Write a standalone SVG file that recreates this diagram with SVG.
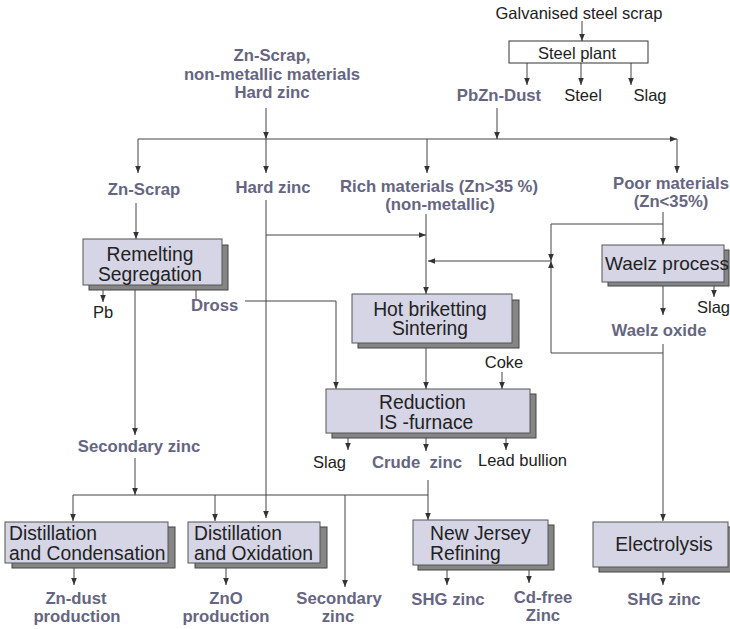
<svg xmlns="http://www.w3.org/2000/svg" width="730" height="629" viewBox="0 0 730 629">
<style>
.t{font-family:"Liberation Sans",Arial,sans-serif;font-size:16.5px;fill:#222}
.b{font-family:"Liberation Sans",Arial,sans-serif;font-size:16.7px;font-weight:bold;fill:#656582}
.bx{font-family:"Liberation Sans",Arial,sans-serif;font-size:19.3px;fill:#222}
.c{text-anchor:middle}
.sh{fill:#858585;stroke:#444;stroke-width:1}
.fr{fill:#d5d5e6;stroke:#555;stroke-width:1}
.ln{fill:none;stroke:#444;stroke-width:1}
.ar{marker-end:url(#ah)}
</style>
<defs>
<marker id="ah" viewBox="0 0 10 8" refX="10" refY="4" markerWidth="7" markerHeight="5.6" markerUnits="userSpaceOnUse" orient="auto">
<path d="M0,0 L10,4 L0,8 z" fill="#333"/>
</marker>
</defs>
<rect width="730" height="629" fill="#fff"/>

<g id="connectors">
<path class="ln ar" d="M582,21 V41"/>
<path class="ln ar" d="M527,63 V85"/>
<path class="ln ar" d="M581,63 V85"/>
<path class="ln ar" d="M631,63 V85"/>
<path class="ln ar" d="M497,108 V139"/>
<path class="ln ar" d="M266,108 V139"/>
<path class="ln ar" d="M138,139 H677"/>
<path class="ln ar" d="M138,139 V173"/>
<path class="ln ar" d="M266,139 V173"/>
<path class="ln ar" d="M427,139 V173"/>
<path class="ln ar" d="M677,139 V173"/>
<path class="ln ar" d="M136,203 V239"/>
<path class="ln ar" d="M103,285 V302"/>
<path class="ln" d="M196,285 V300"/>
<path class="ln ar" d="M245,301 H336 V389"/>
<path class="ln ar" d="M266,200 V518"/>
<path class="ln ar" d="M266,235 H426"/>
<path class="ln ar" d="M426,214 V294"/>
<path class="ln ar" d="M663,212 V245"/>
<path class="ln ar" d="M663,224 H551 V261"/>
<path class="ln ar" d="M663,353 H551 V261"/>
<path class="ln ar" d="M551,261 H428"/>
<path class="ln ar" d="M663,282 V315"/>
<path class="ln ar" d="M714,286 V297"/>
<path class="ln ar" d="M663,344 V521"/>
<path class="ln ar" d="M426,343 V389"/>
<path class="ln ar" d="M502,372 V389"/>
<path class="ln ar" d="M348,433 V450"/>
<path class="ln ar" d="M426,433 V451"/>
<path class="ln ar" d="M506,433 V450"/>
<path class="ln ar" d="M135,285 V435"/>
<path class="ln ar" d="M135,458 V495"/>
<path class="ln" d="M73,495 H428"/>
<path class="ln ar" d="M428,480 V520"/>
<path class="ln ar" d="M73,495 V521"/>
<path class="ln ar" d="M215,495 V521"/>
<path class="ln ar" d="M345,495 V587"/>
<path class="ln ar" d="M74,563 V585"/>
<path class="ln ar" d="M226,563 V585"/>
<path class="ln ar" d="M447,565 V585"/>
<path class="ln ar" d="M529,565 V583"/>
<path class="ln ar" d="M663,567 V585"/>
</g>

<g id="galvanised">
<text class="t c" x="579" y="19">Galvanised steel scrap</text>
</g>
<g id="steel-plant">
<rect x="509" y="41" width="139" height="22" fill="#fff" stroke="#333"/>
<text class="t c" x="577" y="59">Steel plant</text>
</g>
<g id="pbzn-dust"><text class="b c" x="499" y="101">PbZn-Dust</text></g>
<g id="steel"><text class="t c" x="583" y="101">Steel</text></g>
<g id="slag-top"><text class="t c" x="650" y="101">Slag</text></g>
<g id="inputs">
<text class="b c" x="272" y="61">Zn-Scrap,</text>
<text class="b c" x="272" y="80">non-metallic materials</text>
<text class="b c" x="272" y="98">Hard zinc</text>
</g>
<g id="zn-scrap"><text class="b c" x="144" y="195">Zn-Scrap</text></g>
<g id="hard-zinc"><text class="b c" x="273" y="193">Hard zinc</text></g>
<g id="rich">
<text class="b c" x="439" y="192">Rich materials (Zn&gt;35 %)</text>
<text class="b c" x="440" y="210">(non-metallic)</text>
</g>
<g id="poor">
<text class="b c" x="671" y="189">Poor materials</text>
<text class="b c" x="671" y="207">(Zn&lt;35%)</text>
</g>
<g id="remelting">
<rect class="sh" x="89" y="245" width="139" height="45"/>
<rect class="fr" x="83" y="239" width="139" height="46"/>
<text class="bx c" x="150" y="261">Remelting</text>
<text class="bx c" x="150" y="281">Segregation</text>
</g>
<g id="pb"><text class="t c" x="103" y="318">Pb</text></g>
<g id="dross"><text class="b" x="191" y="311">Dross</text></g>
<g id="waelz">
<rect class="sh" x="608" y="250" width="121" height="36"/>
<rect class="fr" x="602" y="245" width="122" height="37"/>
<text class="bx" x="605" y="270" style="font-size:19px">Waelz process</text>
</g>
<g id="slag-waelz"><text class="t" x="697" y="313">Slag</text></g>
<g id="waelz-oxide"><text class="b c" x="659" y="336">Waelz oxide</text></g>
<g id="hot-briketting">
<rect class="sh" x="358" y="300" width="161" height="48"/>
<rect class="fr" x="352" y="294" width="160" height="49"/>
<text class="bx c" x="430" y="316">Hot briketting</text>
<text class="bx c" x="430" y="335">Sintering</text>
</g>
<g id="coke"><text class="t c" x="504" y="368">Coke</text></g>
<g id="reduction">
<rect class="sh" x="332" y="394" width="204" height="44"/>
<rect class="fr" x="326" y="389" width="204" height="44"/>
<text class="bx" x="379" y="409">Reduction</text>
<text class="bx" x="379" y="429">IS -furnace</text>
</g>
<g id="slag-red"><text class="t" x="313" y="468">Slag</text></g>
<g id="crude-zinc"><text class="b" x="372" y="468" style="white-space:pre">Crude  zinc</text></g>
<g id="lead-bullion"><text class="t" x="478" y="466">Lead bullion</text></g>
<g id="secondary-zinc"><text class="b c" x="139" y="452">Secondary zinc</text></g>
<g id="dist-cond">
<rect class="sh" x="12" y="527" width="163" height="41"/>
<rect class="fr" x="5" y="522" width="163" height="41"/>
<text class="bx" x="9" y="540">Distillation</text>
<text class="bx" x="9" y="560">and Condensation</text>
</g>
<g id="dist-ox">
<rect class="sh" x="195" y="527" width="132" height="41"/>
<rect class="fr" x="188" y="522" width="132" height="41"/>
<text class="bx" x="194" y="540">Distillation</text>
<text class="bx" x="194" y="560">and Oxidation</text>
</g>
<g id="new-jersey">
<rect class="sh" x="418" y="525" width="136" height="45"/>
<rect class="fr" x="413" y="520" width="135" height="45"/>
<text class="bx" x="430" y="540">New Jersey</text>
<text class="bx" x="430" y="560">Refining</text>
</g>
<g id="electrolysis">
<rect class="sh" x="599" y="527" width="135" height="45"/>
<rect class="fr" x="593" y="522" width="135" height="45"/>
<text class="bx c" x="664" y="551">Electrolysis</text>
</g>
<g id="zn-dust">
<text class="b c" x="76" y="604">Zn-dust</text>
<text class="b c" x="77" y="622">production</text>
</g>
<g id="zno">
<text class="b c" x="226" y="604">ZnO</text>
<text class="b c" x="226" y="622">production</text>
</g>
<g id="secondary-zinc-2">
<text class="b c" x="339" y="604">Secondary</text>
<text class="b c" x="338" y="622">zinc</text>
</g>
<g id="shg-1"><text class="b c" x="448" y="605">SHG zinc</text></g>
<g id="cd-free">
<text class="b c" x="543" y="603">Cd-free</text>
<text class="b c" x="543" y="621">Zinc</text>
</g>
<g id="shg-2"><text class="b c" x="664" y="605">SHG zinc</text></g>
</svg>
